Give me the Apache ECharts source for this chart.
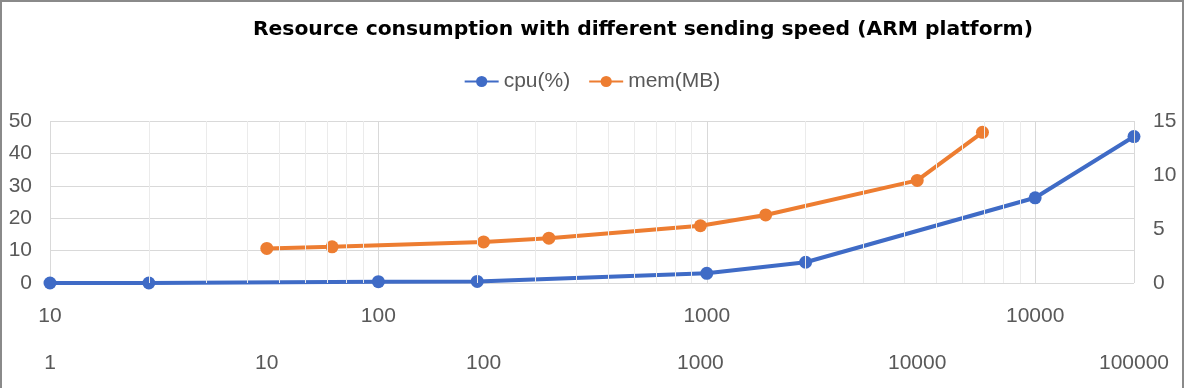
<!DOCTYPE html>
<html>
<head>
<meta charset="utf-8">
<script src="https://cdn.jsdelivr.net/npm/echarts@6/dist/echarts.min.js"></script>
<style>
  html, body { margin: 0; padding: 0; background: #fff; }
  #wrap { position: relative; width: 1184px; height: 388px; }
  #chart { position: absolute; left: 0; top: 0; width: 1184px; height: 388px; }
  #frame { position: absolute; left: 0; top: 0; width: 1180px; height: 388px;
           border-left: 2px solid #8a8a8a; border-top: 2px solid #8a8a8a; border-right: 2px solid #8a8a8a;
           box-sizing: content-box; pointer-events: none; }
</style>
</head>
<body>
<div id="wrap"><div id="chart"></div><div id="frame"></div></div>
<script>
// ---- data ----
const titleText = 'Resource consumption with different sending speed (ARM platform)';
const cpuName = 'cpu(%)';
const memName = 'mem(MB)';
const cpuSpeed = [10, 20, 100, 200, 1000, 2000, 10000, 20000];
const cpuValues = [0, 0, 0.4, 0.5, 3.0, 6.4, 26.3, 45.2];
const memSpeed = [10, 20, 100, 200, 1000, 2000, 10000, 20000];
const memValues = [3.2, 3.35, 3.8, 4.15, 5.3, 6.3, 9.5, 13.95];
const cpuAxisRange = [10, 20000];
const memAxisRange = [1, 100000];
const leftAxisRange = [0, 50, 10];
const rightAxisRange = [0, 15, 5];

// minor log gridlines (2..9 x 10^n) of the cpu x axis
const minorGrid = [];
for (let p = 10; p < cpuAxisRange[1]; p *= 10) {
  for (let m = 2; m <= 9; m++) {
    const v = m * p;
    if (v < cpuAxisRange[1]) minorGrid.push(v);
  }
}

const labelColor = '#595959';
const fontFam = '"Liberation Sans", Arial, sans-serif';
const blue = '#3F6BC6';
const orange = '#ED7D31';
const plainNum = v => String(Math.round(v));

const chart = echarts.init(document.getElementById('chart'), null, { renderer: 'canvas' });
chart.setOption({
  animation: false,
  backgroundColor: '#fff',
  title: {
    text: titleText, left: 638, textAlign: 'center', top: 15,
    textStyle: { fontFamily: '"DejaVu Sans", sans-serif', fontWeight: 'bold', fontSize: 20.3, color: '#000' }
  },
  legend: {
    data: [cpuName, memName], left: 'center', top: 66,
    itemWidth: 34, itemHeight: 14, itemGap: 18,
    textStyle: { fontFamily: fontFam, fontSize: 21, color: labelColor }
  },
  grid: { left: 50, right: 50, top: 121, bottom: 105 },
  xAxis: [
    {
      type: 'log', logBase: 10, min: cpuAxisRange[0], max: cpuAxisRange[1], position: 'bottom',
      axisLine: { show: false }, axisTick: { show: false },
      axisLabel: { fontFamily: fontFam, fontSize: 21, color: labelColor, margin: 23, showMaxLabel: false, formatter: plainNum },
      splitLine: { show: true, lineStyle: { color: '#d9d9d9', width: 1 } }
    },
    {
      type: 'log', logBase: 10, min: memAxisRange[0], max: memAxisRange[1], position: 'bottom', offset: 48,
      axisLine: { show: false }, axisTick: { show: false },
      axisLabel: { fontFamily: fontFam, fontSize: 21, color: labelColor, margin: 22, formatter: plainNum },
      splitLine: { show: false }
    }
  ],
  yAxis: [
    {
      type: 'value', min: leftAxisRange[0], max: leftAxisRange[1], interval: leftAxisRange[2],
      axisLine: { show: false }, axisTick: { show: false },
      axisLabel: { fontFamily: fontFam, fontSize: 21, color: labelColor, margin: 18 },
      splitLine: { show: true, lineStyle: { color: '#d9d9d9', width: 1 } }
    },
    {
      type: 'value', min: rightAxisRange[0], max: rightAxisRange[1], interval: rightAxisRange[2],
      axisLine: { show: false }, axisTick: { show: false },
      axisLabel: { fontFamily: fontFam, fontSize: 21, color: labelColor, margin: 19 },
      splitLine: { show: false }
    }
  ],
  series: [
    {
      name: 'minorGrid', type: 'line', data: [], xAxisIndex: 0, yAxisIndex: 0, z: 1, silent: true,
      markLine: {
        silent: true, symbol: 'none', label: { show: false }, animation: false,
        lineStyle: { color: '#ebebeb', width: 1, type: 'solid' },
        emphasis: { disabled: true },
        data: minorGrid.map(v => ({ xAxis: v })).concat([{ xAxis: cpuAxisRange[1], lineStyle: { color: '#d9d9d9' } }])
      }
    },
    {
      name: cpuName, type: 'line', xAxisIndex: 0, yAxisIndex: 0, z: 3,
      data: cpuSpeed.map((s, i) => [s, cpuValues[i]]),
      symbol: 'circle', symbolSize: 13,
      lineStyle: { color: blue, width: 4 }, itemStyle: { color: blue }
    },
    {
      name: memName, type: 'line', xAxisIndex: 1, yAxisIndex: 1, z: 3,
      data: memSpeed.map((s, i) => [s, memValues[i]]),
      symbol: 'circle', symbolSize: 13,
      lineStyle: { color: orange, width: 4 }, itemStyle: { color: orange }
    }
  ]
});
</script>
</body>
</html>
